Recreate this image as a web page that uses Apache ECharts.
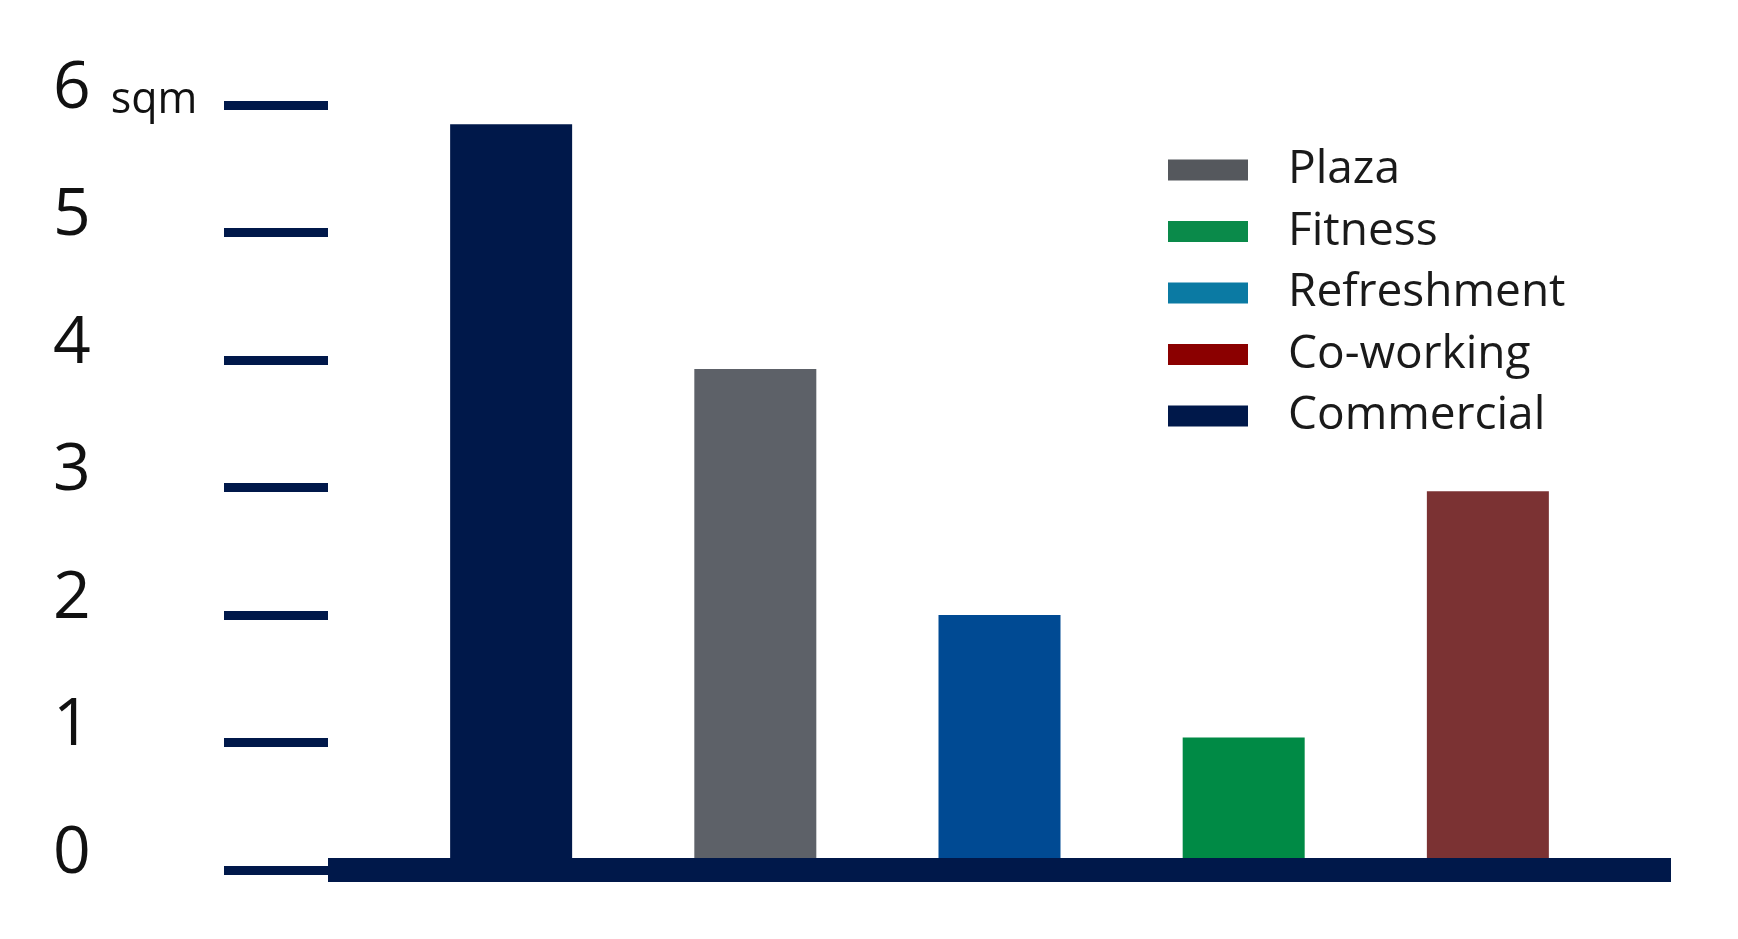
<!DOCTYPE html>
<html>
<head>
<meta charset="utf-8">
<script src="https://cdn.jsdelivr.net/npm/echarts@6/dist/echarts.min.js"></script>
<style>
  html, body { margin: 0; padding: 0; background: #fff; }
  #chart { width: 1738px; height: 939px; }
</style>
</head>
<body>
<div id="chart"></div>
<script>
// bars, left to right
const categories = ['Commercial', 'Plaza', 'Refreshment', 'Fitness', 'Co-working']
const values = [5.85, 3.93, 2.0, 1.04, 2.97]
const barColors = ['#00184a', '#5d6168', '#004a93', '#008a45', '#7b3233']
// legend, top to bottom (swatch colours differ a bit from the bars)
const legendNames = ['Plaza', 'Fitness', 'Refreshment', 'Co-working', 'Commercial']
const legendColors = ['#55585d', '#0a8a4a', '#0b7aa3', '#8b0000', '#00184a']
const yTicks = [0, 1, 2, 3, 4, 5, 6]
const unit = 'sqm'

const navy = '#00184a'
const chart = echarts.init(document.getElementById('chart'))

const series = categories.map((name, i) => {
  return {
    name: name,
    type: 'bar',
    stack: 'all',
    barWidth: 122,
    itemStyle: { color: barColors[i] },
    data: [[i + 1, values[i]]]
  }
})

const option = {
  animation: false,
  backgroundColor: '#fff',
  grid: { left: 328, right: 67, top: 105, bottom: 69 },
  legend: {
    orient: 'vertical',
    left: 1163,
    top: 140,
    icon: 'rect',
    itemWidth: 80,
    itemHeight: 21,
    itemGap: 11.5,
    data: legendNames.map((n, i) => ({ name: n, itemStyle: { color: legendColors[i] } })),
    textStyle: {
      fontFamily: 'Open Sans',
      fontSize: 46,
      color: '#1a1a1a',
      lineHeight: 50,
      padding: [0, 0, 0, 35]
    }
  },
  xAxis: {
    type: 'value',
    min: 0.25,
    max: 5.75,
    z: 5,
    axisLine: { show: true, lineStyle: { color: navy, width: 24, cap: 'butt' } },
    axisTick: { show: false },
    axisLabel: { show: false },
    splitLine: { show: false }
  },
  yAxis: {
    type: 'value',
    min: yTicks[0],
    max: yTicks[yTicks.length - 1],
    interval: 1,
    axisLine: { show: false },
    axisTick: { show: true, length: 104, lineStyle: { color: navy, width: 9, cap: 'butt' } },
    splitLine: { show: false },
    axisLabel: {
      align: 'left',
      margin: 275,
      padding: [0, 0, 36, 0],
      formatter: v => v === yTicks[yTicks.length - 1] ? '{n|' + v + '}{u|' + unit + '}' : '{n|' + v + '}',
      rich: {
        n: { fontFamily: 'Open Sans', fontSize: 66, color: '#111', lineHeight: 70, verticalAlign: 'bottom' },
        u: { fontFamily: 'Open Sans', fontSize: 43, color: '#111', lineHeight: 64, verticalAlign: 'bottom', padding: [0, 0, 0, 20] }
      }
    }
  },
  series: series
}

chart.setOption(option)
</script>
</body>
</html>
